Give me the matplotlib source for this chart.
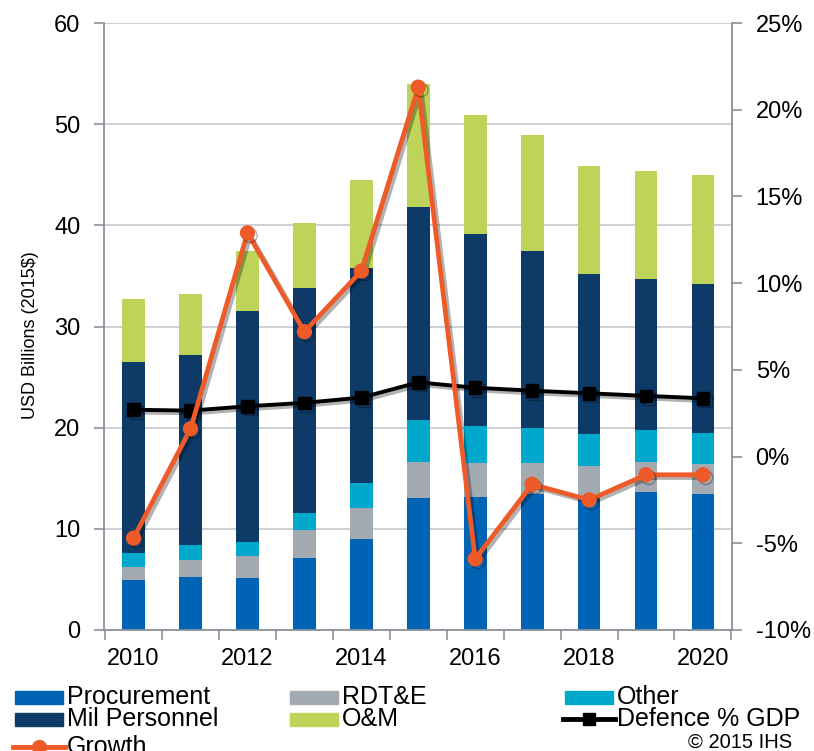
import numpy as np
import matplotlib
matplotlib.use('Agg')
from matplotlib import pyplot as plt
from matplotlib import patheffects as pe
from matplotlib.lines import Line2D
from matplotlib.patches import Rectangle

plt.rcParams['font.family'] = ['Liberation Sans', 'DejaVu Sans']

years = np.arange(2010, 2021)
procurement = [4.9, 5.2, 5.1, 7.1, 9.0, 13.0, 13.1, 13.4, 13.0, 13.6, 13.4]
rdte = [1.35, 1.7, 2.25, 2.8, 3.1, 3.6, 3.4, 3.1, 3.2, 3.0, 3.0]
other = [1.35, 1.5, 1.3, 1.7, 2.4, 4.15, 3.7, 3.5, 3.2, 3.2, 3.1]
mil_personnel = [18.9, 18.8, 22.9, 22.2, 21.3, 21.05, 18.9, 17.5, 15.75, 14.9, 14.75]
om = [6.2, 6.0, 5.95, 6.4, 8.7, 12.2, 11.8, 11.4, 10.75, 10.7, 10.75]
growth = [-4.7, 1.6, 12.9, 7.2, 10.7, 21.3, -5.9, -1.6, -2.5, -1.05, -1.05]
defence_gdp = [2.7, 2.65, 2.9, 3.1, 3.4, 4.28, 3.97, 3.8, 3.65, 3.5, 3.36]

c_proc = '#0063B4'
c_rdte = '#A3AAB1'
c_other = '#00A9CC'
c_mil = '#0E3A67'
c_om = '#BDD35A'
c_growth = '#EE5A28'
c_axis = '#8C929B'

W, H = 814, 751
fig = plt.figure(figsize=(W/100, H/100), dpi=100)
ax = fig.add_axes([104/W, 1-630/H, (732-104)/W, (630-23)/H])

w = 0.4
bottom = np.zeros(len(years))
for vals, col in [(procurement, c_proc), (rdte, c_rdte), (other, c_other),
                  (mil_personnel, c_mil), (om, c_om)]:
    ax.bar(years, vals, w, bottom=bottom, color=col, zorder=2)
    bottom += np.array(vals)

ax.set_xlim(2009.48, 2020.51)
ax.set_ylim(0, 60)
ax.set_yticks(range(0, 61, 10))
ax.set_xticks(years[::2])
ax.set_xticks(np.arange(2009.5, 2021, 1), minor=True)
ax.tick_params(axis='x', which='major', length=0, pad=13, labelsize=17)
ax.tick_params(axis='x', which='minor', length=7, width=1.2, color=c_axis)
ax.tick_params(axis='y', length=7, width=1.2, color=c_axis, labelsize=17, pad=10)
ax.set_ylabel('USD Billions (2015$)', fontsize=13)
ax.yaxis.set_label_coords(-0.104, 0.486)
ax.yaxis.grid(True, color='#C8CBD0', linewidth=1.3)
ax.set_axisbelow(True)
for s in ['left', 'bottom']:
    ax.spines[s].set_color(c_axis)
    ax.spines[s].set_linewidth(1.3)
ax.spines['top'].set_visible(False)
ax.spines['right'].set_visible(False)

ax2 = ax.twinx()
ax2.set_ylim(-10, 25)
ax2.set_yticks(range(-10, 26, 5))
ax2.set_yticklabels([f'{v}%' for v in range(-10, 26, 5)])
ax2.tick_params(axis='y', length=7, width=1.2, color=c_axis, labelsize=17, pad=10)
ax2.spines['right'].set_color(c_axis)
ax2.spines['right'].set_linewidth(1.3)
for s in ['left', 'top', 'bottom']:
    ax2.spines[s].set_visible(False)

shadow = [pe.SimpleLineShadow(offset=(2, -2), alpha=0.3), pe.Normal()]
ax2.plot(years, defence_gdp, color='black', lw=2.8, marker='s', ms=9,
         path_effects=shadow, zorder=3)
ax2.plot(years, growth, color=c_growth, lw=3.4, marker='o', ms=10,
         path_effects=shadow, zorder=4)

# legend drawn by hand (pixel positions)
def leg_patch(x, y, col, label):
    fig.add_artist(Rectangle((x/W, 1-(y+6.5)/H), 48/W, 13/H, color=col,
                             transform=fig.transFigure))
    fig.text((x+52)/W, 1-y/H, label, va='center', fontsize=18)

def leg_line(x, y, col, mk, ms, label):
    fig.add_artist(Line2D([(x-2)/W, (x+50)/W], [1-y/H, 1-y/H], color=col, lw=3.5,
                          transform=fig.transFigure))
    fig.add_artist(Line2D([(x+24)/W], [1-y/H], color=col, marker=mk, ms=ms,
                          transform=fig.transFigure))
    fig.text((x+52)/W, 1-y/H, label, va='center', fontsize=18)

leg_patch(15, 697, c_proc, 'Procurement')
leg_patch(15, 719, c_mil, 'Mil Personnel')
leg_line(15, 747, c_growth, 'o', 10, 'Growth')
leg_patch(290, 697, c_rdte, 'RDT&E')
leg_patch(290, 719, c_om, 'O&M')
leg_patch(565, 697, c_other, 'Other')
leg_line(565, 719, 'black', 's', 9, 'Defence % GDP')
fig.text(792/W, 1-742/H, '© 2015 IHS', ha='right', va='center', fontsize=14.5)

plt.savefig('out.png', dpi=100)
